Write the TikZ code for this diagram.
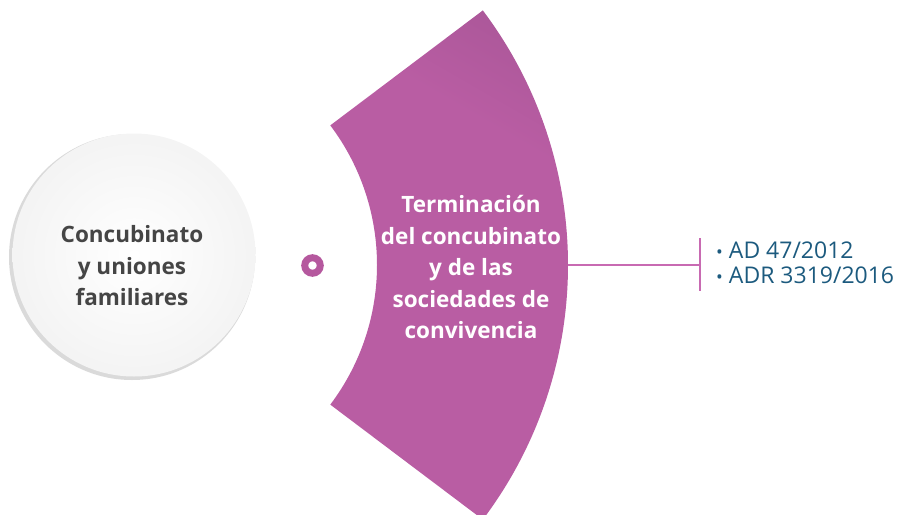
\documentclass[tikz,border=0pt]{standalone}
\usepackage{fontspec}
\setmainfont{Open Sans}
\usetikzlibrary{calc}
\definecolor{secP}{HTML}{B95DA3}
\definecolor{secD}{HTML}{86477F}
\definecolor{ringP}{HTML}{B5589E}
\definecolor{lineP}{HTML}{C86AB2}
\definecolor{blueT}{HTML}{1C5A7E}
\definecolor{grayT}{HTML}{454545}
\definecolor{shadowG}{HTML}{DADADA}
\pgfdeclareverticalshading{sectorshade}{100bp}{color(0bp)=(secP); color(66bp)=(secP); color(82bp)=(secP!65!secD); color(100bp)=(secD)}
\tikzset{
  boldtxt/.style={font=\fontsize{22.5}{31.5}\selectfont\bfseries, align=center},
  conn/.style={draw=lineP, line width=1.2pt},
}
\begin{document}
\begin{tikzpicture}[x=1pt,y=-1pt]
\useasboundingbox (0,0) rectangle (904,514);
\clip (0,0) rectangle (904,514);
\coordinate (C) at (145,265);
% left circle
\fill[shadowG] (132,257) circle[radius=123];
\shade[inner color=white, outer color=gray!9] (134,255) circle[radius=121.5];
\node[boldtxt, text=grayT] (left) at (132,266) {Concubinato\\y uniones\\familiares};
% ring
\node[circle, draw=ringP, line width=7pt, minimum size=15.5pt, inner sep=0pt] (ring) at (312.5,265.5) {};
% sector
\path[shading=sectorshade, shading angle=-30]
  ($(C)+(-37:232)$) -- ($(C)+(-37:423)$) arc[start angle=-37, end angle=37, radius=423]
  -- ($(C)+(37:232)$) arc[start angle=37, end angle=-37, radius=232] -- cycle;
\coordinate (secR) at ($(C)+(0:423)$);
\node[boldtxt, text=white] (sec) at (471,267) {Terminación\\del concubinato\\y de las\\sociedades de\\convivencia};
% connector
\coordinate (bar) at (700,265);
\draw[conn] (secR) -- (bar);
\draw[conn] ($(bar)+(0,-27)$) -- ($(bar)+(0,26)$);
\node[anchor=west, align=left, text=blueT, font=\fontsize{23}{25.5}\selectfont, inner sep=0pt] (list) at (716,263) {{\fontsize{18}{18}\selectfont•} AD 47/2012\\{\fontsize{18}{18}\selectfont•} ADR 3319/2016};
\end{tikzpicture}
\end{document}
